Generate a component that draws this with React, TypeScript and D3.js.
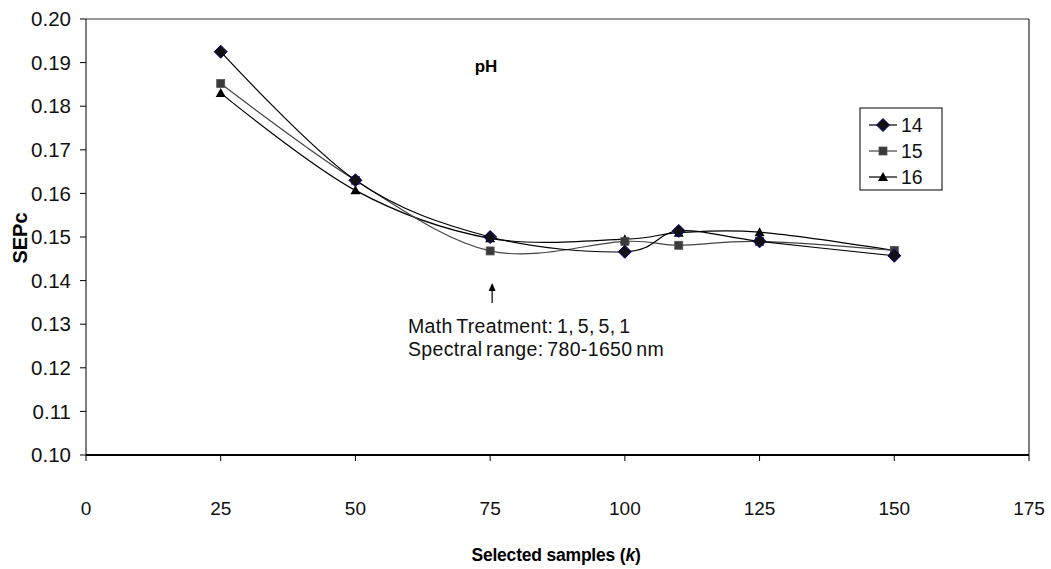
import React from "react";
import * as d3 from "d3";

// Selected samples (k) on the x axis
const samples = [25, 50, 75, 100, 110, 125, 150];

// SEPc values for each series
const series14 = [0.1925, 0.163, 0.150, 0.1466, 0.1514, 0.149, 0.1457];
const series15 = [0.1852, 0.163, 0.1468, 0.149, 0.1481, 0.149, 0.1469];
const series16 = [0.183, 0.1607, 0.1497, 0.1495, 0.151, 0.1511, 0.1469];

const seriesNames = ["14", "15", "16"];
const xTicks = [0, 25, 50, 75, 100, 125, 150, 175];
const yTicks = [0.1, 0.11, 0.12, 0.13, 0.14, 0.15, 0.16, 0.17, 0.18, 0.19, 0.2];

const W = 1051;
const H = 569;
const left = 86;
const right = 1029;
const top = 19;
const bottom = 455;
const FONT = "Liberation Sans, Arial, sans-serif";

type Marker = "diamond" | "square" | "triangle";

function MarkerShape({ kind, x, y }: { kind: Marker; x: number; y: number }) {
  if (kind === "diamond") {
    const s = 6.5;
    return (
      <path
        d={`M${x},${y - s}L${x + s},${y}L${x},${y + s}L${x - s},${y}Z`}
        fill="#111"
        stroke="#000080"
        strokeWidth={1}
      />
    );
  }
  if (kind === "square") {
    const s = 4;
    return <rect x={x - s} y={y - s} width={2 * s} height={2 * s} fill="#3a3a3a" stroke="#555" strokeWidth={0.8} />;
  }
  const s = 5;
  return <path d={`M${x},${y - s}L${x + s},${y + s * 0.8}L${x - s},${y + s * 0.8}Z`} fill="#000" />;
}

export default function App() {
  const x = d3.scaleLinear().domain([0, 175]).range([left, right]);
  const y = d3.scaleLinear().domain([0.1, 0.2]).range([bottom, top]);

  const line = d3
    .line<[number, number]>()
    .x((d) => x(d[0]))
    .y((d) => y(d[1]))
    .curve(d3.curveCardinal.tension(0));

  const all = [
    { name: seriesNames[2], values: series16, marker: "triangle" as Marker, color: "#000" },
    { name: seriesNames[1], values: series15, marker: "square" as Marker, color: "#444" },
    { name: seriesNames[0], values: series14, marker: "diamond" as Marker, color: "#000" },
  ];

  const legendItems = [
    { name: seriesNames[0], marker: "diamond" as Marker, color: "#000" },
    { name: seriesNames[1], marker: "square" as Marker, color: "#444" },
    { name: seriesNames[2], marker: "triangle" as Marker, color: "#000" },
  ];

  return (
    <svg
      width={W}
      height={H}
      style={{ position: "absolute", left: 0, top: 0, background: "#fff" }}
      fontFamily={FONT}
    >
      <rect width={W} height={H} fill="#fff" />
      {/* plot frame */}
      <line x1={left} x2={right} y1={top} y2={top} stroke="#777" strokeWidth={1.5} />
      <line x1={right} x2={right} y1={top} y2={bottom} stroke="#000" strokeWidth={1} />
      <line x1={left} x2={left} y1={top} y2={bottom} stroke="#000" strokeWidth={1} />

      {/* y ticks */}
      {yTicks.map((t) => (
        <g key={t}>
          <line x1={left - 6} x2={left} y1={y(t)} y2={y(t)} stroke="#000" />
          <text x={left - 15} y={y(t)} dy="0.35em" textAnchor="end" fontSize={20.5} fill="#111">
            {t.toFixed(2)}
          </text>
        </g>
      ))}

      {/* x ticks */}
      {xTicks.map((t) => (
        <g key={t}>
          <line x1={x(t)} x2={x(t)} y1={bottom} y2={bottom + 6} stroke="#000" />
          <text x={x(t)} y={508} dy="0.35em" textAnchor="middle" fontSize={19} fill="#111">
            {t}
          </text>
        </g>
      ))}
      <line x1={left} x2={right} y1={bottom} y2={bottom} stroke="#000" strokeWidth={2} />

      {/* series */}
      {all.map((s) => (
        <path
          key={s.name}
          d={line(samples.map((k, i) => [k, s.values[i]] as [number, number])) || ""}
          fill="none"
          stroke={s.color}
          strokeWidth={1.2}
        />
      ))}
      {all.map((s) =>
        samples.map((k, i) => <MarkerShape key={s.name + k} kind={s.marker} x={x(k)} y={y(s.values[i])} />)
      )}

      {/* chart title */}
      <text x={486} y={66} dy="0.35em" textAnchor="middle" fontSize={17} fontWeight="bold">
        pH
      </text>

      {/* annotation */}
      <line x1={x(75) + 2} x2={x(75) + 2} y1={303} y2={288} stroke="#000" strokeWidth={1.2} />
      <path d={`M${x(75) + 2},${283}L${x(75) + 5.5},${291}L${x(75) - 1.5},${291}Z`} fill="#000" />
      <text x={408} y={326} dy="0.35em" fontSize={19.5} fill="#111" letterSpacing={0.35} wordSpacing={-2}>
        Math Treatment: 1, 5, 5, 1
      </text>
      <text x={408} y={349} dy="0.35em" fontSize={19.5} fill="#111" letterSpacing={0.35} wordSpacing={-2}>
        Spectral range: 780-1650 nm
      </text>

      {/* legend */}
      <rect x={860} y={108} width={82} height={82} fill="#fff" stroke="#000" strokeWidth={1} />
      {legendItems.map((it, i) => {
        const ly = 125 + i * 26;
        return (
          <g key={it.name}>
            <line x1={869} x2={897} y1={ly} y2={ly} stroke={it.color} strokeWidth={1.2} />
            <MarkerShape kind={it.marker} x={883} y={ly} />
            <text x={901} y={ly} dy="0.35em" fontSize={19.5} fill="#111">
              {it.name}
            </text>
          </g>
        );
      })}

      {/* axis titles */}
      <text x={556} y={555} dy="0.35em" textAnchor="middle" fontSize={17.5} fontWeight="bold" letterSpacing={-0.2}>
        Selected samples (<tspan fontStyle="italic">k</tspan>)
      </text>
      <text
        transform={`translate(20,${238}) rotate(-90)`}
        textAnchor="middle"
        dy="0.35em"
        fontSize={20}
        fontWeight="bold"
      >
        SEPc
      </text>
    </svg>
  );
}
